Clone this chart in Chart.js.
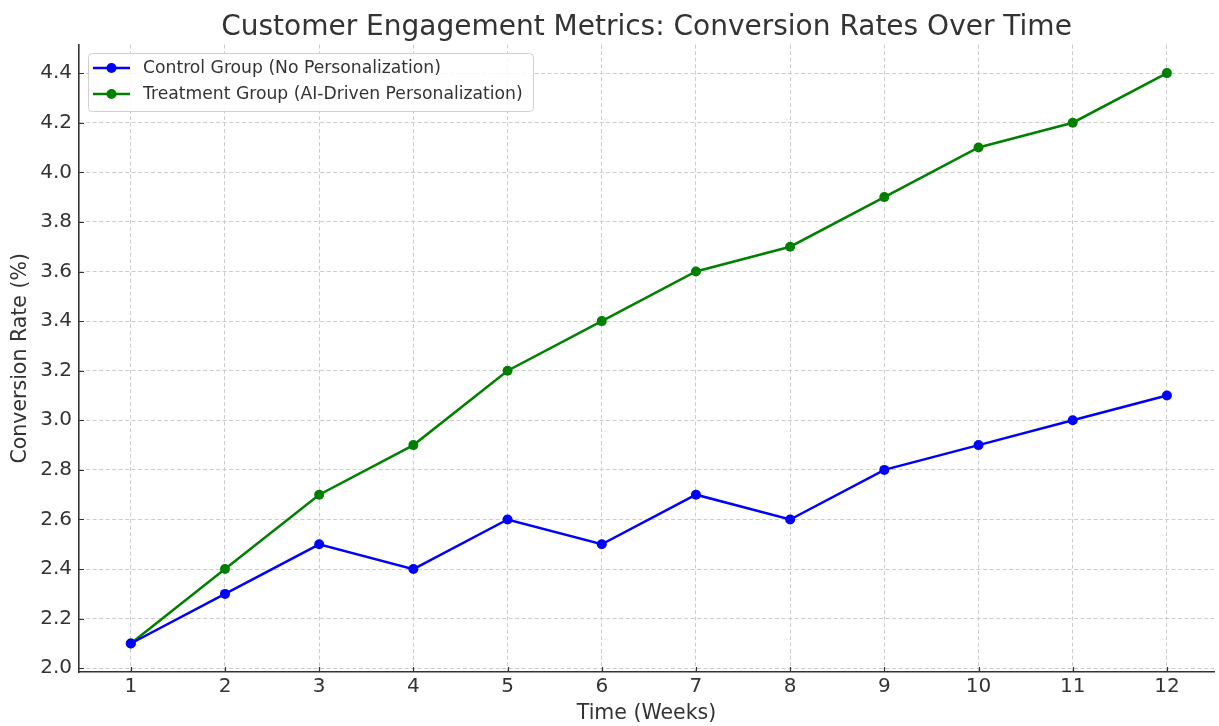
<!DOCTYPE html>
<html>
<head>
<meta charset="utf-8">
<script src="https://cdn.jsdelivr.net/npm/chart.js@4"></script>
<style>
  html, body { margin: 0; padding: 0; background: #fff; overflow: hidden; }
  #wrap { width: 1219px; height: 726px; position: relative; }
</style>
</head>
<body>
<div id="wrap"><canvas id="c" width="1219" height="726"></canvas></div>
<script>
const weeks = [1, 2, 3, 4, 5, 6, 7, 8, 9, 10, 11, 12];
const controlValues = [2.1, 2.3, 2.5, 2.4, 2.6, 2.5, 2.7, 2.6, 2.8, 2.9, 3.0, 3.1];
const treatmentValues = [2.1, 2.4, 2.7, 2.9, 3.2, 3.4, 3.6, 3.7, 3.9, 4.1, 4.2, 4.4];
const yTickValues = [2.0, 2.2, 2.4, 2.6, 2.8, 3.0, 3.2, 3.4, 3.6, 3.8, 4.0, 4.2, 4.4];
const seriesLabels = ['Control Group (No Personalization)', 'Treatment Group (AI-Driven Personalization)'];
const seriesColors = ['#0000ff', '#008000'];

const FONT = "'DejaVu Sans', sans-serif";
const TXT = '#333333';

// inward tick marks, matplotlib style
const innerTicksPlugin = {
  id: 'innerTicks',
  afterDatasetsDraw(chart) {
    const ctx = chart.ctx;
    const xs = chart.scales.x, ys = chart.scales.y;
    const area = chart.chartArea;
    ctx.save();
    ctx.strokeStyle = '#333333';
    ctx.lineWidth = 1.2;
    ctx.beginPath();
    xs.ticks.forEach(t => {
      const px = Math.round(xs.getPixelForValue(t.value)) + 0.5;
      ctx.moveTo(px, area.bottom);
      ctx.lineTo(px, area.bottom - 5);
    });
    ys.ticks.forEach(t => {
      const py = Math.round(ys.getPixelForValue(t.value)) + 0.5;
      ctx.moveTo(area.left, py);
      ctx.lineTo(area.left + 5, py);
    });
    ctx.stroke();
    ctx.restore();
  }
};

const legendPlugin = {
  id: 'mplLegend',
  afterDraw(chart) {
    const ctx = chart.ctx;
    const x0 = 88, y0 = 53, w = 445, h = 58;
    ctx.save();
    ctx.beginPath();
    ctx.roundRect(x0 + 0.5, y0 + 0.5, w, h, 4);
    ctx.fillStyle = 'rgba(255,255,255,0.85)';
    ctx.fill();
    ctx.strokeStyle = '#d0d0d0';
    ctx.lineWidth = 1;
    ctx.stroke();
    ctx.font = '17.2px ' + FONT;
    ctx.textBaseline = 'middle';
    chart.data.datasets.forEach((ds, i) => {
      const cy = y0 + 15 + i * 26;
      ctx.strokeStyle = ds.borderColor;
      ctx.lineWidth = 2.5;
      ctx.beginPath();
      ctx.moveTo(x0 + 5, cy);
      ctx.lineTo(x0 + 42, cy);
      ctx.stroke();
      ctx.fillStyle = ds.backgroundColor;
      ctx.beginPath();
      ctx.arc(x0 + 23.5, cy, 5, 0, Math.PI * 2);
      ctx.fill();
      ctx.fillStyle = TXT;
      ctx.fillText(ds.label, x0 + 55, cy + 1);
    });
    ctx.restore();
  }
};

const gridOpts = {
  color: '#cccccc',
  lineWidth: 1,
  drawTicks: false
};
const borderOpts = { display: true, color: '#333333', width: 1.6, dash: [4, 2.5] };

new Chart(document.getElementById('c'), {
  type: 'line',
  data: {
    datasets: [
      {
        label: seriesLabels[0],
        data: weeks.map((w, i) => ({ x: w, y: controlValues[i] })),
        borderColor: seriesColors[0],
        backgroundColor: seriesColors[0],
        borderWidth: 2.5,
        pointRadius: 5,
        pointHoverRadius: 5,
        pointBorderWidth: 0,
        tension: 0
      },
      {
        label: seriesLabels[1],
        data: weeks.map((w, i) => ({ x: w, y: treatmentValues[i] })),
        borderColor: seriesColors[1],
        backgroundColor: seriesColors[1],
        borderWidth: 2.5,
        pointRadius: 5,
        pointHoverRadius: 5,
        pointBorderWidth: 0,
        tension: 0
      }
    ]
  },
  options: {
    responsive: false,
    animation: false,
    devicePixelRatio: 1,
    layout: { padding: { top: 0, right: 0, bottom: 0, left: 0 } },
    plugins: {
      legend: { display: false },
      tooltip: { enabled: false },
      title: {
        display: true,
        fullSize: false,
        text: 'Customer Engagement Metrics: Conversion Rates Over Time',
        color: TXT,
        font: { family: FONT, size: 28, weight: 'normal' },
        padding: { top: 10.5, bottom: 0.5 }
      }
    },
    scales: {
      x: {
        type: 'linear',
        min: 0.45,
        max: 12.5,
        afterBuildTicks(scale) { scale.ticks = weeks.map(v => ({ value: v })); },
        afterFit(scale) { scale.height = 54; },
        ticks: {
          color: TXT,
          font: { family: FONT, size: 20 },
          padding: 3,
          maxRotation: 0,
          autoSkip: false,
          callback: v => String(v)
        },
        grid: gridOpts,
        border: borderOpts,
        title: {
          display: true,
          text: 'Time (Weeks)',
          color: TXT,
          font: { family: FONT, size: 20.5 },
          padding: { top: 0, bottom: 0 }
        }
      },
      y: {
        type: 'linear',
        min: 1.985,
        max: 4.515,
        afterBuildTicks(scale) { scale.ticks = yTickValues.map(v => ({ value: v })); },
        afterFit(scale) { scale.width = 79; },
        ticks: {
          color: TXT,
          font: { family: FONT, size: 20 },
          padding: 7,
          autoSkip: false,
          callback: v => Number(v).toFixed(1)
        },
        grid: gridOpts,
        border: borderOpts,
        title: {
          display: true,
          text: 'Conversion Rate (%)',
          color: TXT,
          font: { family: FONT, size: 20.5 },
          padding: { top: 8, bottom: 0 }
        }
      }
    }
  },
  plugins: [innerTicksPlugin, legendPlugin]
});
</script>
</body>
</html>
